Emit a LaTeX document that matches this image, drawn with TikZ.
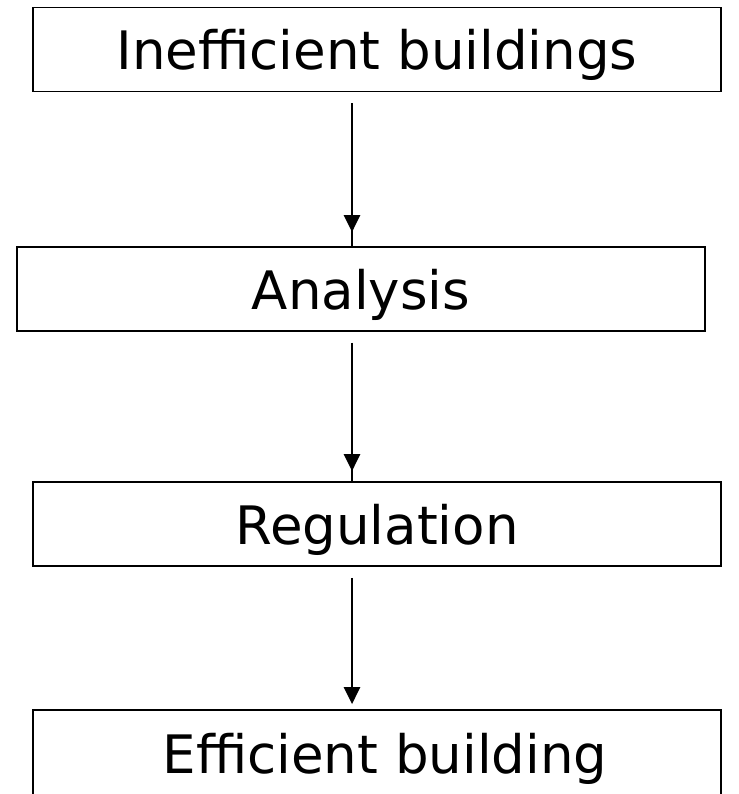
\documentclass[tikz,border=0pt]{standalone}
\usepackage{fontspec}
\setmainfont{DejaVu Sans}
\usetikzlibrary{arrows.meta, positioning}
\tikzset{%
	flow box/.style={
		draw,
		line width=1.7pt,
		minimum width=688pt,
		minimum height=84pt,
		inner sep=0pt,
		text height=40pt,
		text depth=0pt,
		font=\fontsize{53}{60}\selectfont
	},
	flow line/.style={
		line width=2.8pt,
		shorten <=11pt
	},
	flow arrow/.style={
		flow line,
		-{Triangle[width=16pt,length=17pt]}
	},
}
\begin{document}
\begin{tikzpicture}[x=1pt,y=-1pt]
	% page frame (box 4 runs off the bottom)
	\clip (0,0) rectangle (738,794);
	
	% Draw the four stages
	\node[flow box] (ineff) at (377,49.5) {Inefficient buildings};
	\node[flow box] (analysis) at (361,289) {Analysis};
	\node[flow box] (regul) at (377,524) {Regulation};
	\node[flow box, minimum height=100pt] (eff) at (377,760) {};
	\node[font=\fontsize{53}{60}\selectfont, anchor=base, inner sep=0pt] (efftext) at (385,773) {Efficient building};
	
	% Draw arrows between the stages
	\coordinate (axis) at (352,0);
	\draw[flow line] (ineff.south -| axis) -- (analysis.north -| axis);
	\draw[flow arrow, shorten >=14pt] (ineff.south -| axis) -- (analysis.north -| axis);
	\draw[flow line] (analysis.south -| axis) -- (regul.north -| axis);
	\draw[flow arrow, shorten >=10pt] (analysis.south -| axis) -- (regul.north -| axis);
	\draw[flow arrow, shorten >=5pt] (regul.south -| axis) -- (eff.north -| axis);
\end{tikzpicture}
\end{document}
